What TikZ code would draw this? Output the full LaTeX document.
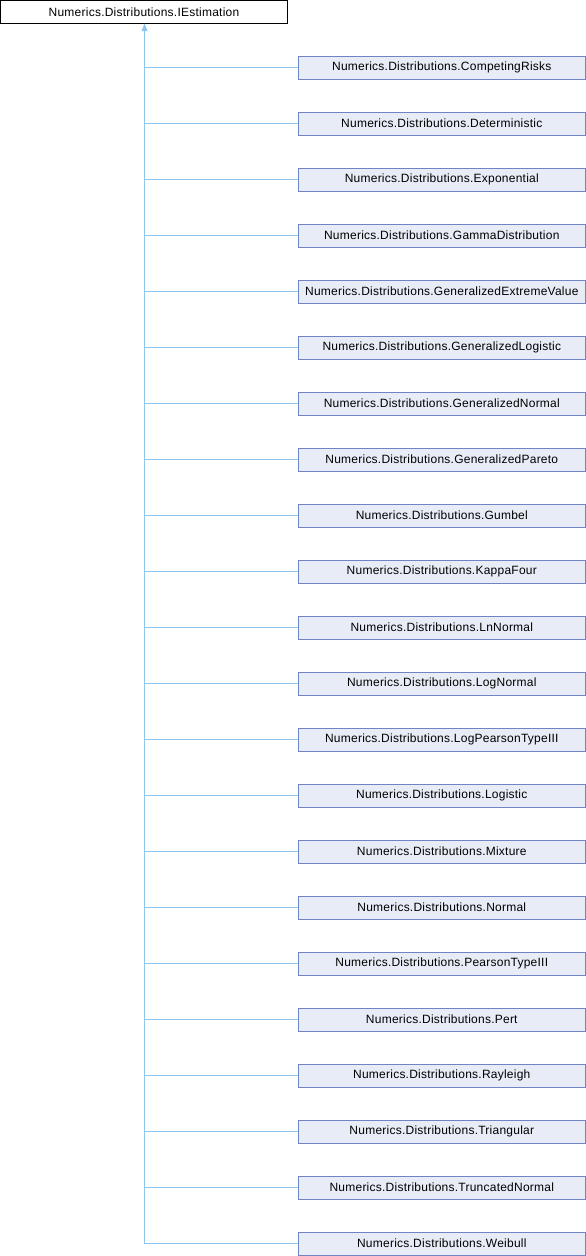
\documentclass[tikz,border=0pt]{standalone}
\usepackage{fontspec}
\setmainfont[LetterSpace=2]{Liberation Sans}
\usetikzlibrary{arrows.meta}
\definecolor{edgeblue}{HTML}{8CC6EE}
\definecolor{boxfill}{HTML}{E8ECF6}
\definecolor{boxborder}{HTML}{7083C4}
\tikzset{
  parentbox/.style={draw=black, fill=white, line width=1pt, minimum width=287pt, minimum height=23pt, inner sep=0pt, font=\fontsize{12}{14}\selectfont, anchor=center},
  childbox/.style={draw=boxborder, fill=boxfill, line width=1pt, minimum width=287pt, minimum height=23pt, inner sep=0pt, font=\fontsize{12}{14}\selectfont, anchor=center},
  inherit/.style={draw=edgeblue, line width=1pt},
}
\begin{document}
\begin{tikzpicture}[x=1pt,y=-1pt]
\useasboundingbox (0,0) rectangle (586,1256);
\node[parentbox] (p) at (144,12) {Numerics.Distributions.IEstimation};
\foreach \name [count=\i from 0] in {CompetingRisks,Deterministic,Exponential,GammaDistribution,GeneralizedExtremeValue,GeneralizedLogistic,GeneralizedNormal,GeneralizedPareto,Gumbel,KappaFour,LnNormal,LogNormal,LogPearsonTypeIII,Logistic,Mixture,Normal,PearsonTypeIII,Pert,Rayleigh,Triangular,TruncatedNormal,Weibull}{
  \node[childbox] (c\i) at (441.8,67.5+56*\i) {Numerics.Distributions.\name};
}
\coordinate (bot) at (144.5,1243.5);
\draw[inherit] (bot) -- (p.south -| bot);
\foreach \i in {0,...,21}{
  \draw[inherit] (c\i.west) -- (c\i.west -| bot);
}
\fill[edgeblue] (144.5,23.5) -- (141.5,31) -- (147.5,31) -- cycle;
\end{tikzpicture}
\end{document}
